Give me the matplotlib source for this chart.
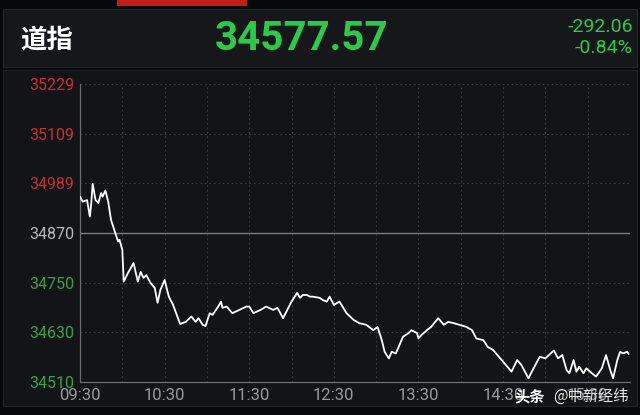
import matplotlib
matplotlib.use("Agg")
import matplotlib.pyplot as plt
from matplotlib.patches import Rectangle

# Dow intraday, minutes after 09:30 and index level
minutes = [0, 2, 5, 7, 8, 9, 11, 13, 15, 16, 18, 20, 22, 25, 27, 28, 30, 31, 34, 38,
           41, 43, 45, 47, 50, 53, 55, 57, 60, 63, 66, 69, 71, 75, 79, 82, 84, 87, 89, 92,
           94, 98, 100, 101, 104, 108, 113, 118, 120, 123, 128, 132, 137, 140, 144, 147,
           150, 154, 156, 158, 161, 163, 165, 170, 172, 175, 177, 180, 184, 189, 194, 198,
           203, 208, 211, 214, 216, 219, 221, 224, 229, 233, 235, 239, 240, 242, 246, 249,
           254, 258, 261, 265, 269, 274, 278, 281, 286, 289, 293, 298, 303, 306, 310, 313,
           318, 321, 326, 330, 336, 339, 342, 345, 347, 350, 352, 354, 357, 359, 363, 366,
           370, 373, 376, 378, 381, 383, 385, 388, 389]
values = [34957, 34945, 34949, 34909, 34942, 34988, 34949, 34942, 34966, 34957, 34972,
          34945, 34901, 34870, 34849, 34853, 34829, 34752, 34773, 34797, 34752, 34776,
          34761, 34768, 34749, 34737, 34701, 34732, 34756, 34716, 34696, 34668, 34650,
          34655, 34668, 34655, 34664, 34648, 34645, 34676, 34672, 34692, 34704, 34689,
          34692, 34676, 34684, 34692, 34692, 34676, 34684, 34692, 34684, 34689, 34664,
          34684, 34704, 34725, 34713, 34720, 34720, 34716, 34716, 34713, 34708, 34704,
          34716, 34696, 34704, 34676, 34660, 34652, 34648, 34635, 34643, 34611, 34583,
          34567, 34583, 34579, 34619, 34628, 34635, 34628, 34615, 34623, 34635, 34643,
          34664, 34648, 34655, 34652, 34648, 34643, 34635, 34615, 34611, 34595, 34587,
          34567, 34547, 34535, 34563, 34551, 34519, 34539, 34571, 34567, 34586, 34567,
          34575, 34539, 34531, 34563, 34535, 34547, 34531, 34543, 34531, 34523, 34543,
          34575, 34539, 34519, 34563, 34583, 34579, 34583, 34577.57]

prev_close = 34870
y_ticks = [34510, 34630, 34750, 34870, 34989, 35109, 35229]
x_ticks = [0, 60, 120, 180, 240, 300, 360]
x_labels = ["09:30", "10:30", "11:30", "12:30", "13:30", "14:30", "15:30"]
name = "道指"
last_price = "34577.57"
change = "-292.06"
change_pct = "-0.84%"
watermark_a = "头条"
watermark_b = "@中新经纬"

GREEN = "#2fc94a"
RED = "#c8302f"
GREEN_TICK = "#3aa048"

fig = plt.figure(figsize=(6.4, 4.15), dpi=100)
fig.patch.set_facecolor("#070809")

W, H = 640, 415
def fig_rect(x, y, w, h, color, **kw):
    # x, y in pixels from top-left
    fig.patches.append(Rectangle((x / W, 1 - (y + h) / H), w / W, h / H,
                                 transform=fig.transFigure, facecolor=color,
                                 edgecolor=kw.get("ec", "none"), lw=kw.get("lw", 0),
                                 zorder=-5))

fig_rect(117, 0, 130, 6, "#c41c1c")
fig_rect(3, 9, 634, 58, "#15171b", ec="#24272c", lw=0.8)
fig_rect(3, 70, 634, 336, "#121418", ec="#202328", lw=0.8)

ax = fig.add_axes([80 / W, 33 / H, 550 / W, 298 / H])
ax.set_facecolor("#121418")
ax.plot(minutes, values, color="white", lw=1.3, zorder=3)

ax.set_xlim(0, 390)
ax.set_ylim(34510, 35229)
ax.set_xticks(x_ticks + [30, 90, 150, 210, 270, 330, 390])
ax.set_xticklabels(x_labels + [""] * 7)
ax.set_yticks(y_ticks)
ax.set_yticklabels([str(v) for v in y_ticks])

for t in ax.get_xticks():
    ax.axvline(t, color="#3a3d44", lw=0.8, ls=(0, (1.5, 2.5)), zorder=1)
for v in y_ticks:
    if v == prev_close:
        ax.axhline(v, color="#7a7c80", lw=1.0, zorder=2)
    else:
        ax.axhline(v, color="#3a3d44", lw=0.8, ls=(0, (1.5, 2.5)), zorder=1)

for s in ["top", "right"]:
    ax.spines[s].set_visible(False)
for s in ["left", "bottom"]:
    ax.spines[s].set_color("#6a6c70")
    ax.spines[s].set_linewidth(0.9)

ax.tick_params(length=0, pad=4)
ax.tick_params(axis="y", labelsize=11.5)
ax.tick_params(axis="x", labelsize=12, colors="#9a9a9a", pad=4)
for lab, v in zip(ax.get_yticklabels(), y_ticks):
    lab.set_fontfamily(["Roboto", "DejaVu Sans"])
    if v > prev_close:
        lab.set_color(RED)
    elif v < prev_close:
        lab.set_color(GREEN_TICK)
    else:
        lab.set_color("#b8b8b8")
for lab in ax.get_xticklabels():
    lab.set_fontfamily(["Roboto", "DejaVu Sans"])

fig.text(20 / W, 1 - 40 / H, name, color="white", fontsize=19, fontweight="bold",
         family=["Noto Sans CJK SC", "DejaVu Sans"], va="center", ha="left")
fig.text(302 / W, 1 - 39 / H, last_price, color=GREEN, fontsize=29, fontweight="bold",
         family=["Roboto", "DejaVu Sans"], va="center", ha="center")
fig.text(633 / W, 1 - 27 / H, change, color=GREEN, fontsize=14,
         family=["Roboto", "DejaVu Sans"], va="center", ha="right")
fig.text(633 / W, 1 - 48 / H, change_pct, color=GREEN, fontsize=14,
         family=["Roboto", "DejaVu Sans"], va="center", ha="right")

fig.text(514 / W, 1 - 396 / H, watermark_a, color="white", fontsize=11, fontweight="bold",
         family=["Noto Sans CJK SC", "DejaVu Sans"], va="center", ha="left", zorder=5)
fig.text(553 / W, 1 - 396 / H, watermark_b, color="#e8e8e8", fontsize=11,
         family=["Noto Sans CJK SC", "DejaVu Sans"], va="center", ha="left", zorder=5)

fig.savefig("out.png", dpi=100, facecolor=fig.get_facecolor())
